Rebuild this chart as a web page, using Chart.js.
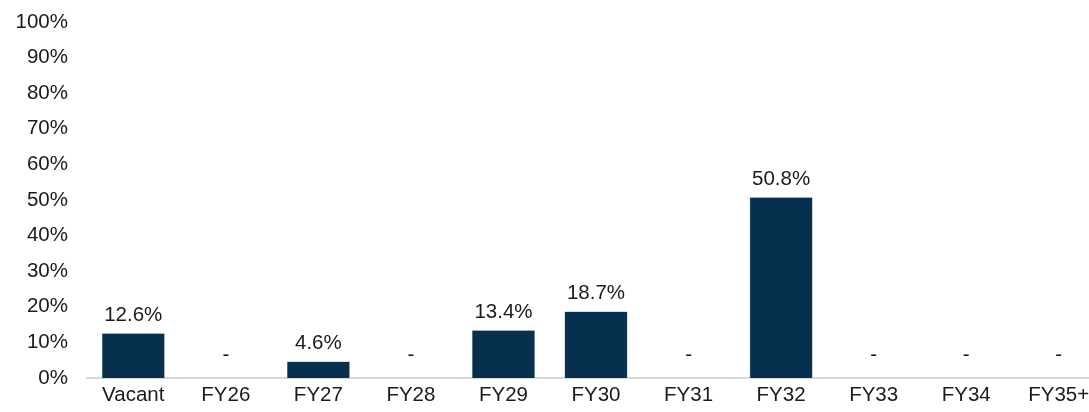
<!DOCTYPE html>
<html>
<head>
<meta charset="utf-8">
<script src="https://cdn.jsdelivr.net/npm/chart.js@4/dist/chart.umd.min.js"></script>
<style>
  html, body { margin:0; padding:0; background:#fff; }
  /* plot runs slightly past the right edge in the original, so crop it */
  #wrap { width:1089px; height:412px; overflow:hidden; }
</style>
</head>
<body>
<div id="wrap"><canvas id="expiry" width="1105" height="412"></canvas></div>
<script>
const categories = ['Vacant','FY26','FY27','FY28','FY29','FY30','FY31','FY32','FY33','FY34','FY35+'];
const shareValues = [12.6, 0, 4.6, 0, 13.4, 18.7, 0, 50.8, 0, 0, 0];
const yTicks = [0,10,20,30,40,50,60,70,80,90,100];

const FONT = { family:'"Liberation Sans", Arial, sans-serif', size:20.5 };
const INK = '#1a1a1a';

// labels above bars, "-" where there is nothing
const barLabels = {
  id:'barLabels',
  afterDatasetsDraw(chart) {
    const ctx = chart.ctx, meta = chart.getDatasetMeta(0), y0 = chart.scales.y.getPixelForValue(0);
    ctx.save();
    ctx.font = `${FONT.size}px ${FONT.family}`;
    ctx.fillStyle = INK; ctx.textAlign = 'center'; ctx.textBaseline = 'middle';
    meta.data.forEach((bar, i) => {
      const v = shareValues[i];
      if (v > 0) ctx.fillText(v.toFixed(1) + '%', bar.x, bar.y - 18);
      else ctx.fillText('-', bar.x, y0 - 23);
    });
    ctx.restore();
  }
};

new Chart(document.getElementById('expiry'), {
  type:'bar',
  data:{ labels:categories, datasets:[{ data:shareValues, backgroundColor:'#06304d', borderColor:'#5f7f95', borderWidth:0.5, barPercentage:0.68, categoryPercentage:1 }] },
  options:{
    responsive:false, animation:false,
    layout:{ padding:{ top:22, right:0, left:0, bottom:0 } },
    plugins:{ legend:{ display:false }, tooltip:{ enabled:false } },
    scales:{
      x:{
        grid:{ display:false, drawTicks:false },
        border:{ display:true, color:'#d9d9d9', width:2 },
        ticks:{ color:INK, font:FONT, padding:5, maxRotation:0, autoSkip:false },
        afterFit(s){ s.height = 34; }
      },
      y:{
        min:0, max:100,
        afterBuildTicks(s){ s.ticks = yTicks.map(v => ({ value:v })); },
        grid:{ display:false, drawTicks:false },
        border:{ display:false },
        ticks:{ color:INK, font:FONT, padding:19, callback:v => v + '%' },
        afterFit(s){ s.width = 87; s.paddingTop = 0; s.paddingBottom = 0; }
      }
    }
  },
  plugins:[barLabels]
});
</script>
</body>
</html>
